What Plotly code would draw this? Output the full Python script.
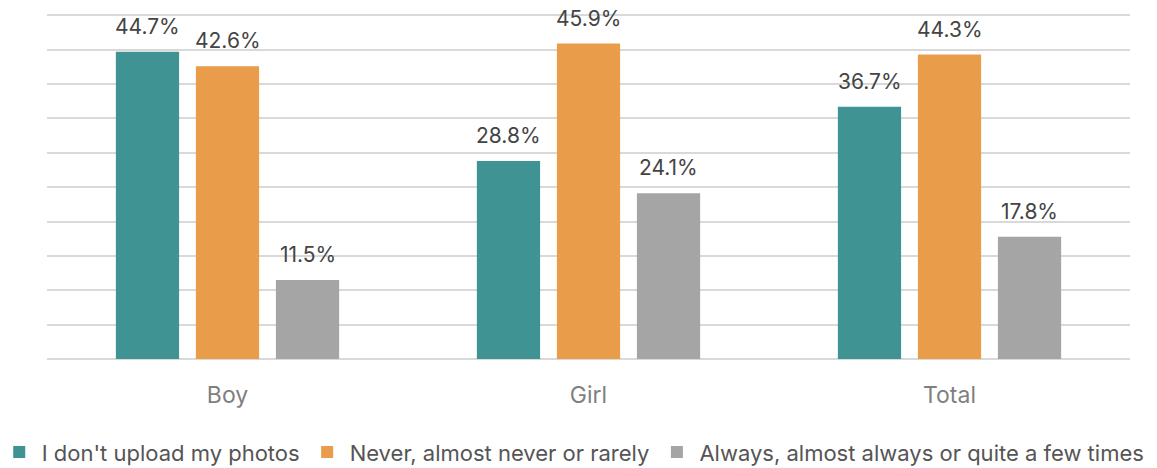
import plotly.graph_objects as go

categories = ["Boy", "Girl", "Total"]
series_names = ["I don't upload my photos", "Never, almost never or rarely", "Always, almost always or quite a few times"]
no_upload = [44.7, 28.8, 36.7]
rarely = [42.6, 45.9, 44.3]
always = [11.5, 24.1, 17.8]
colors = ["#3F9393", "#E99D4A", "#A5A5A5"]

values = [no_upload, rarely, always]
font_family = "Inter, Noto Sans, sans-serif"

fig = go.Figure()
for name, vals, col in zip(series_names, values, colors):
    fig.add_trace(go.Bar(
        x=categories, y=vals, name=name, marker_color=col, marker_line_width=0,
        hoverinfo="skip",
    ))

# value labels
shifts = [-80, 0, 80]
for vals, xs in zip(values, shifts):
    for c, v in zip(categories, vals):
        fig.add_annotation(x=c, y=v, text=f"{v:.1f}%", showarrow=False,
                           xshift=xs, yshift=11, yanchor="bottom",
                           font=dict(size=21, color="#444444", family=font_family))

W, H = 1157, 468
L, R, T, B = 47, 5, 14, 109
plot_right = 1130
fig.update_layout(
    width=W, height=H,
    margin=dict(l=L, r=R, t=T, b=B, autoexpand=False),
    plot_bgcolor="white", paper_bgcolor="white",
    barmode="group", bargap=0.335, bargroupgap=0.21,
    font=dict(family=font_family, color="#555555"),
    showlegend=True,
    legend=dict(orientation="h", xref="paper", yref="paper",
                x=-0.0455, xanchor="left", y=-0.27, yanchor="middle",
                font=dict(size=22, color="#555555", family=font_family),
                itemwidth=35, traceorder="normal"),
    xaxis=dict(domain=[0, (plot_right - L) / (W - L - R)],
               showgrid=False, showline=False, ticks="", ticklabelstandoff=20,
               tickfont=dict(size=23, color="#7F7F7F", family=font_family)),
    yaxis=dict(range=[0, 50.2], dtick=5, showticklabels=False, showgrid=True,
               gridcolor="#D9D9D9", gridwidth=1.5, zeroline=True, zerolinecolor="#D9D9D9",
               zerolinewidth=1.5, showline=False),
)

fig.write_html("out.html", config={"displayModeBar": False},
               post_script="document.body.style.margin='0';")
